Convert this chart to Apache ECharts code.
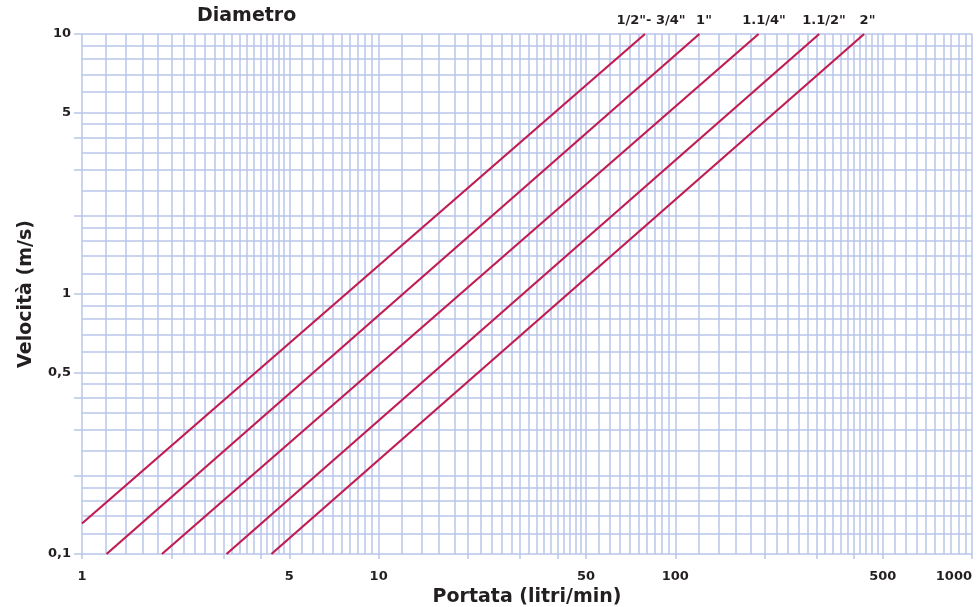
<!DOCTYPE html>
<html><head><meta charset="utf-8">
<script src="https://cdn.jsdelivr.net/npm/echarts@6/dist/echarts.min.js"></script>
<style>html,body{margin:0;padding:0;background:#fff}#c{width:978px;height:607px}</style>
</head><body><div id="c"></div>
<script>
// ---- data ----
const seriesNames = ['1/2"- 3/4"', '1"', '1.1/4"', '1.1/2"', '2"'];
const flowStart = [1, 1.21, 1.86, 3.07, 4.35];
const velStart = [0.131, 0.1, 0.1, 0.1, 0.1];
const flowEnd = [79, 120.5, 190.8, 305.5, 433];
const velEnd = [10, 10, 10, 10, 10];

// grid / tick definitions
const xGridMantissa = [1,1.2,1.4,1.6,1.8,2,2.2,2.4,2.6,2.8,3,3.2,3.4,3.6,3.8,4,4.2,4.4,4.6,4.8,5,5.5,6,6.5,7,7.5,8,8.5,9,9.5];
const xDecades = [1, 10, 100];
const yGridMantissa = [1,1.2,1.4,1.6,1.8,2,2.5,3,3.5,4,4.5,5,6,7,8,9];
const yDecades = [0.1, 1];
const xTickValues = [1,2,3,4,5,10,20,30,40,50,100,200,300,400,500,1000];
const xLabelValues = [1,5,10,50,100,500,1000];
const yTickValues = [0.1,0.2,0.3,0.4,0.5,1,2,3,4,5,10];
const yLabelValues = [0.1,0.5,1,5,10];

const xGrid = [];
xDecades.forEach(d => xGridMantissa.forEach(m => xGrid.push(+(m*d).toPrecision(6))));
xGrid.push(1000);
const yGrid = [];
yDecades.forEach(d => yGridMantissa.forEach(m => yGrid.push(+(m*d).toPrecision(6))));
yGrid.push(10);

// ---- style ----
const gridColor = '#b9c6e8';
const lineColor = '#c01c52';
const textColor = '#231f20';
const FONT = 'DejaVu Sans';
const labelStyle = {fontFamily: FONT, fontWeight: 'bold', fontSize: 13, color: textColor};
const nameStyle = {fontFamily: FONT, fontWeight: 'bold', fontSize: 19, color: textColor};

const chart = echarts.init(document.getElementById('c'), null, {renderer: 'canvas'});

const series = seriesNames.map((n, i) => ({
  name: n,
  type: 'line',
  xAxisIndex: 0,
  yAxisIndex: 0,
  data: [[flowStart[i], velStart[i]], [flowEnd[i], velEnd[i]]],
  showSymbol: false,
  symbol: 'none',
  silent: true,
  lineStyle: {color: lineColor, width: 2.2},
  z: 5
}));

const labelX = [651, 704, 764, 824, 867.5];
const graphics = [
  {type: 'text', left: 197, top: 7, style: {text: 'Diametro', font: 'bold 19px "' + FONT + '"', fill: textColor}}
].concat(seriesNames.map((n, i) => ({
  type: 'text', x: labelX[i], y: 21,
  style: {text: n, font: 'bold 13px "' + FONT + '"', fill: textColor, textAlign: 'center', textVerticalAlign: 'middle'}
})));

chart.setOption({
  animation: false,
  backgroundColor: '#fff',
  grid: {left: 82, right: 6, top: 34, bottom: 53, containLabel: false, outerBoundsMode: 'none'},
  xAxis: [
    {type: 'log', logBase: 10, min: 1, max: 1000, position: 'bottom',
     axisLine: {show: false}, axisTick: {show: false, customValues: xGrid},
     axisLabel: {show: false},
     splitLine: {show: true, showMinLine: true, showMaxLine: true, lineStyle: {color: gridColor, width: 1.5}}},
    {type: 'log', logBase: 10, min: 1, max: 1000, position: 'bottom',
     axisLine: {show: false},
     axisTick: {show: true, customValues: xTickValues, length: 5, lineStyle: {color: gridColor, width: 1.5}},
     axisLabel: Object.assign({customValues: xLabelValues, margin: 16, alignMaxLabel: 'right', formatter: v => String(v)}, labelStyle),
     splitLine: {show: false},
     name: 'Portata (litri/min)', nameLocation: 'middle', nameGap: 33, nameTextStyle: nameStyle}
  ],
  yAxis: [
    {type: 'log', logBase: 10, min: 0.1, max: 10, position: 'left',
     axisLine: {show: false}, axisTick: {show: false, customValues: yGrid},
     axisLabel: {show: false},
     splitLine: {show: true, showMinLine: true, showMaxLine: true, lineStyle: {color: gridColor, width: 1.5}}},
    {type: 'log', logBase: 10, min: 0.1, max: 10, position: 'left',
     axisLine: {show: false},
     axisTick: {show: true, customValues: yTickValues, length: 8, lineStyle: {color: gridColor, width: 1.5}},
     axisLabel: Object.assign({customValues: yLabelValues, margin: 11, formatter: v => String(v).replace('.', ',')}, labelStyle),
     splitLine: {show: false},
     name: 'Velocità (m/s)', nameLocation: 'middle', nameGap: 46, nameRotate: 90, nameTextStyle: nameStyle}
  ],
  graphic: graphics,
  series: series
});
</script>
</body></html>
